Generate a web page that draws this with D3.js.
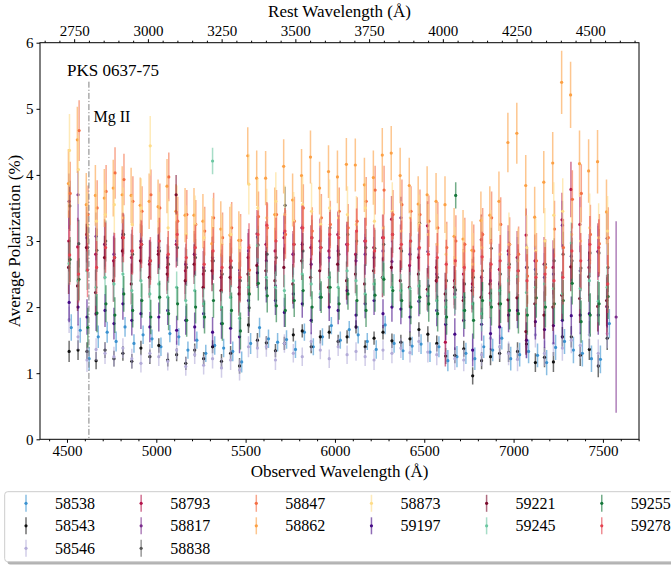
<!DOCTYPE html>
<html>
<head>
<meta charset="utf-8">
<script src="https://cdn.jsdelivr.net/npm/d3@7"></script>
<style>
  body { margin: 0; background: #fff; }
  svg { font-family: "Liberation Serif", "Times New Roman", serif; }
  .tick text { font-size: 15px; fill: #000; font-family: "Liberation Serif", "Times New Roman", serif; }
  .tick line { stroke: #000; }
</style>
</head>
<body>
<div id="chart"></div>
<script>
// ============
// Data
// ============

var redshift = 0.651;           // PKS 0637-75
var mgII = 2800;                // rest wavelength of Mg II line

var xTicks = [4500, 5000, 5500, 6000, 6500, 7000, 7500];
var restTicks = [2750, 3000, 3250, 3500, 3750, 4000, 4250, 4500];
var yTicks = [0, 1, 2, 3, 4, 5, 6];

// bin centres (observed wavelength, Å)
var wave = [4512, 4562, 4612, 4663, 4713, 4763, 4813, 4863, 4914, 4964,
  5014, 5064, 5114, 5165, 5215, 5265, 5315, 5365, 5416, 5466,
  5516, 5566, 5616, 5667, 5717, 5767, 5817, 5867, 5918, 5968,
  6018, 6068, 6118, 6169, 6219, 6269, 6319, 6369, 6420, 6470,
  6520, 6570, 6620, 6671, 6721, 6771, 6821, 6871, 6922, 6972,
  7022, 7072, 7122, 7173, 7223, 7273, 7323, 7373, 7424, 7474, 7524, 7574];

var epochs = ["58538", "58543", "58546", "58793", "58817", "58838", "58847",
  "58862", "58873", "59197", "59221", "59245", "59255", "59278"];
var colors = ["#3b92d0", "#111111", "#b3abd8", "#b4124a", "#7a2b8c", "#555555", "#f46d43",
  "#fca044", "#fedc88", "#450a86", "#7a0a2c", "#6cc7a2", "#15773a", "#e4424f"];
// small wavelength offset of each night's bins (Å)
var shifts = [12, 0, 0, -2, 0, 4, 6, -4, 2, 0, -3, 0, 5, 3];

var pol58538 = [1.69, 1.65, 1.22, 1.55, 1.62, 1.48, 1.70, 1.45, 1.58, 1.52,
  1.40, 1.60, 1.55, 1.35, 1.50, 1.30, 1.42, 1.38, 1.33, 1.17,
  1.45, 1.69, 1.52, 1.47, 1.51, 1.36, 1.62, 1.40, 1.55, 1.72,
  1.50, 1.66, 1.58, 1.48, 1.36, 1.73, 1.45, 1.34, 1.41, 1.44,
  1.32, 1.40, 1.19, 1.25, 1.30, 1.22, 1.40, 1.35, 1.53, 1.22,
  1.28, 1.33, 1.27, 1.16, 1.39, 1.48, 1.35, 1.30, 1.22, 1.21, 1.75, null];
var err58538 = [.20, .19, .18, .17, .16, .15, .15, .14, .14, .14,
  .14, .13, .13, .13, .13, .13, .14, .14, .15, .16,
  .16, .15, .14, .14, .14, .13, .13, .13, .13, .13,
  .13, .13, .13, .13, .14, .14, .14, .14, .14, .15,
  .15, .16, .16, .16, .16, .17, .17, .17, .17, .18,
  .18, .18, .18, .19, .19, .19, .20, .20, .20, .21, .22, null];

var pol58543 = [1.33, 1.35, 1.33, 1.19, 1.35, 1.22, 1.30, 1.18, 1.38, 1.25,
  1.42, 1.20, 1.28, 1.15, 1.35, 1.22, 1.40, 1.18, 1.30, 1.11,
  1.73, 1.50, 1.46, 1.34, 1.45, 1.58, 1.64, 1.40, 1.55, 1.62,
  1.48, 1.55, 1.70, 1.40, 1.53, 1.62, 1.49, 1.47, 1.52, 1.66,
  1.59, 1.45, 1.26, 1.27, 1.37, 0.96, 1.19, 1.25, 1.30, 1.31,
  1.33, 1.44, 1.16, 1.24, 1.17, 1.55, 1.55, 1.27, 1.36, 1.11, 1.53, null];
var err58543 = [.16, .15, .14, .13, .12, .12, .11, .11, .11, .11,
  .11, .10, .10, .10, .10, .10, .10, .11, .11, .12,
  .12, .11, .10, .10, .10, .10, .10, .10, .10, .10,
  .10, .10, .10, .10, .10, .11, .11, .11, .11, .11,
  .12, .12, .12, .12, .12, .13, .13, .13, .13, .14,
  .14, .14, .14, .15, .15, .15, .16, .16, .16, .17, .18, null];

var pol58546 = [1.81, 1.55, 1.20, 1.36, 1.30, 1.25, 1.38, 1.22, 1.15, 1.30,
  1.25, 1.18, 1.35, 1.10, 1.28, 1.12, 1.22, 1.08, 1.20, 1.05,
  1.40, 1.38, 1.40, 1.20, 1.45, 1.30, 1.25, 1.48, 1.35, 1.22,
  1.40, 1.28, 1.33, 1.25, 1.20, 1.35, 1.30, 1.38, 1.31, 1.48,
  1.32, 1.28, 1.30, 1.22, 1.20, 1.35, 1.28, 1.53, 1.40, 1.30,
  1.21, 1.40, 1.58, 1.30, 1.45, 1.38, 1.50, 1.42, 1.58, 1.30, 1.60, null];
var err58546 = [.20, .19, .18, .17, .16, .15, .15, .15, .14, .14,
  .14, .14, .14, .14, .14, .14, .15, .15, .15, .16,
  .16, .15, .15, .15, .14, .14, .14, .14, .14, .14,
  .14, .14, .14, .14, .15, .15, .15, .15, .15, .16,
  .16, .16, .16, .17, .17, .17, .17, .17, .18, .18,
  .18, .18, .19, .19, .19, .19, .20, .20, .21, .21, .22, null];

var pol58793 = [3.00, 2.91, 3.10, 2.80, 2.95, 2.70, 3.05, 2.75, 2.90, 2.65,
  2.85, 2.60, 2.95, 2.55, 2.80, 2.50, 2.70, 2.45, 2.60, 2.30,
  2.75, 3.11, 2.95, 2.85, 3.05, 2.80, 3.20, 2.90, 3.00, 2.85,
  3.10, 2.95, 2.80, 3.00, 2.90, 3.05, 3.33, 2.89, 2.63, 2.75,
  3.23, 2.60, 1.47, 2.40, 2.50, 2.35, 3.02, 2.21, 2.57, 2.85,
  2.75, 3.09, 2.70, 2.65, 2.60, 3.32, 3.78, 3.25, 2.60, 2.84, 2.01, null];
var err58793 = [.46, .44, .42, .40, .38, .37, .37, .36, .36, .36,
  .35, .35, .35, .35, .35, .35, .36, .36, .37, .38,
  .37, .36, .35, .35, .35, .35, .34, .34, .34, .34,
  .34, .34, .34, .35, .35, .35, .35, .36, .36, .36,
  .37, .37, .37, .37, .38, .38, .38, .38, .39, .39,
  .40, .40, .40, .41, .41, .41, .42, .42, .43, .43, .44, null];

var pol58817 = [3.60, 3.70, 3.05, 3.07, 2.95, 2.80, 3.10, 2.85, 3.00, 2.70,
  2.90, 2.75, 3.00, 2.65, 2.80, 2.60, 2.75, 2.55, 2.70, 2.56,
  2.85, 3.06, 2.70, 2.32, 3.12, 2.80, 2.95, 2.65, 2.90, 2.75,
  2.85, 2.95, 2.70, 2.80, 2.75, 2.85, 2.69, 3.35, 2.80, 2.88,
  2.84, 2.50, 2.10, 2.20, 2.15, 2.30, 2.45, 2.40, 2.35, 2.80,
  2.70, 2.60, 2.57, 2.45, 2.50, 3.24, 2.77, 2.55, 2.71, 2.84, 3.04, 1.85];
var err58817 = [.42, .40, .38, .36, .34, .33, .33, .32, .32, .32,
  .31, .31, .31, .31, .31, .31, .32, .32, .33, .34,
  .33, .32, .31, .31, .31, .31, .30, .30, .30, .30,
  .30, .30, .30, .31, .31, .31, .31, .32, .32, .32,
  .33, .33, .33, .33, .34, .34, .34, .34, .35, .35,
  .36, .36, .36, .37, .37, .37, .38, .38, .39, .39, .40, 1.45];

var pol58838 = [3.53, 2.96, 2.90, 2.86, 3.00, 2.75, 3.10, 2.80, 2.95, 2.70,
  2.85, 2.65, 2.90, 2.60, 2.75, 2.55, 2.70, 2.50, 2.60, 2.40,
  1.99, 2.94, 2.80, 2.75, 3.54, 2.95, 2.85, 3.05, 2.90, 3.20,
  2.80, 3.10, 3.00, 2.90, 2.89, 2.95, 3.10, 2.85, 3.00, 3.27,
  2.32, 2.45, 2.40, 2.26, 2.35, 2.45, 2.55, 2.89, 2.50, 2.65,
  2.55, 2.60, 2.50, 2.65, 2.70, 2.80, 2.70, 2.59, 2.82, 2.82, 2.60, null];
var err58838 = [.38, .36, .34, .33, .31, .30, .30, .29, .29, .29,
  .28, .28, .28, .28, .28, .28, .29, .29, .30, .31,
  .30, .29, .28, .28, .28, .28, .27, .27, .27, .27,
  .27, .27, .27, .28, .28, .28, .28, .29, .29, .29,
  .30, .30, .30, .30, .31, .31, .31, .31, .32, .32,
  .33, .33, .33, .34, .34, .34, .35, .35, .36, .36, .37, null];

var pol58847 = [3.72, 4.67, 3.40, 3.50, 3.75, 4.03, 3.93, 3.60, 3.45, 3.70,
  3.50, 3.97, 3.30, 3.40, 3.25, 3.15, 3.35, 3.05, 3.20, 3.01,
  2.56, 3.37, 3.20, 3.40, 3.10, 3.30, 3.50, 3.15, 3.35, 3.25,
  3.45, 3.20, 3.30, 3.60, 3.77, 3.77, 3.40, 3.55, 3.45, 3.40,
  3.30, 3.20, 2.90, 3.00, 2.95, 2.85, 3.10, 3.35, 3.25, 2.95,
  2.80, 2.47, 2.70, 2.60, 3.18, 2.90, 3.63, 3.72, 3.10, 2.96, 3.05, null];
var err58847 = [.48, .46, .44, .42, .40, .39, .39, .38, .38, .38,
  .37, .37, .37, .37, .37, .37, .38, .38, .39, .40,
  .39, .38, .37, .37, .37, .37, .36, .36, .36, .36,
  .36, .36, .36, .37, .37, .37, .37, .38, .38, .38,
  .39, .39, .39, .39, .40, .40, .40, .40, .41, .41,
  .42, .42, .42, .43, .43, .43, .44, .44, .45, .45, .46, null];

var pol58862 = [3.87, 4.53, 3.55, 3.69, 3.65, 3.80, 3.70, 3.69, 3.54, 3.60,
  3.52, 3.83, 3.45, 3.39, 3.39, 3.30, 2.96, 3.18, 3.09, 3.01,
  4.29, 3.95, 3.95, 3.40, 4.13, 3.62, 3.99, 4.27, 3.80, 4.05,
  3.97, 4.16, 4.15, 3.85, 3.96, 4.30, 4.33, 3.99, 3.84, 3.56,
  3.70, 3.60, 3.55, 3.07, 3.03, 2.86, 3.31, 3.39, 3.60, 4.49,
  4.63, 3.84, 3.36, 3.89, 4.18, 5.40, 5.21, 4.17, 4.06, 4.20, 3.44, null];
var err58862 = [.52, .50, .48, .46, .44, .43, .43, .42, .42, .42,
  .41, .41, .41, .41, .41, .41, .42, .42, .43, .44,
  .43, .42, .41, .41, .41, .40, .40, .40, .40, .40,
  .40, .40, .40, .41, .41, .41, .41, .42, .42, .42,
  .43, .43, .43, .43, .44, .44, .44, .44, .45, .45,
  .46, .46, .46, .47, .47, .48, .50, .50, .48, .48, .49, null];

var pol58873 = [4.37, 4.08, 3.24, 3.30, 3.40, 3.55, 3.35, 3.25, 3.50, 4.44,
  3.30, 3.20, 3.40, 3.10, 3.25, 3.05, 3.20, 2.95, 3.10, 2.90,
  3.86, 3.50, 3.35, 3.60, 3.40, 3.30, 3.55, 3.45, 3.25, 3.50,
  3.35, 3.40, 3.25, 3.50, 3.30, 3.20, 3.45, 3.15, 3.35, 3.25,
  3.10, 2.95, 2.80, 2.75, 2.85, 2.65, 2.90, 3.00, 2.80, 2.95,
  2.70, 2.90, 2.85, 3.00, 3.39, 3.45, 3.10, 3.00, 3.20, 3.05, 3.15, null];
var err58873 = [.55, .52, .50, .48, .47, .46, .46, .45, .45, .45,
  .44, .44, .44, .44, .44, .44, .45, .45, .46, .47,
  .46, .45, .44, .44, .44, .44, .43, .43, .43, .43,
  .43, .43, .43, .44, .44, .44, .44, .45, .45, .45,
  .46, .46, .46, .46, .47, .47, .47, .47, .48, .48,
  .49, .49, .49, .50, .50, .50, .51, .51, .52, .52, .53, null];

var pol59197 = [2.07, 2.00, 1.85, 1.90, 1.95, 1.75, 2.05, 1.80, 1.90, 1.70,
  1.85, 1.95, 1.65, 1.80, 1.70, 1.90, 1.62, 1.75, 1.68, 1.55,
  2.10, 2.52, 2.29, 2.10, 1.92, 2.20, 2.05, 1.80, 2.15, 2.00,
  1.95, 2.25, 1.88, 2.05, 2.10, 1.90, 2.00, 1.97, 1.85, 2.09,
  2.17, 1.95, 1.74, 1.59, 1.80, 1.35, 1.74, 1.60, 1.70, 1.88,
  1.95, 1.50, 1.78, 1.66, 1.72, 1.80, 1.87, 1.88, 1.90, 1.88, 2.00, null];
var err59197 = [.30, .28, .27, .26, .25, .24, .24, .23, .23, .23,
  .22, .22, .22, .22, .22, .22, .23, .23, .24, .25,
  .24, .23, .22, .22, .22, .22, .21, .21, .21, .21,
  .21, .21, .21, .22, .22, .22, .22, .23, .23, .23,
  .24, .24, .24, .24, .25, .25, .25, .25, .26, .26,
  .27, .27, .27, .28, .28, .28, .29, .29, .30, .30, .31, null];

var pol59221 = [2.60, 2.32, 2.90, 2.22, 2.75, 2.40, 2.85, 2.35, 2.70, 2.45,
  2.80, 2.50, 3.70, 2.40, 2.65, 2.30, 2.55, 2.25, 2.45, 2.20,
  2.50, 2.63, 2.55, 2.40, 2.60, 2.35, 2.70, 2.45, 2.55, 2.30,
  2.65, 2.40, 2.50, 2.35, 2.55, 2.45, 2.60, 2.40, 2.30, 2.50,
  2.27, 2.40, 2.20, 2.30, 2.10, 2.25, 2.15, 2.35, 2.05, 2.11,
  2.14, 1.63, 2.05, 1.88, 2.00, 2.18, 2.61, 2.13, 2.46, 2.01, 2.10, null];
var err59221 = [.40, .38, .36, .35, .33, .32, .32, .31, .31, .31,
  .30, .30, .30, .30, .30, .30, .31, .31, .32, .33,
  .32, .31, .30, .30, .30, .30, .29, .29, .29, .29,
  .29, .29, .29, .30, .30, .30, .30, .31, .31, .31,
  .32, .32, .32, .32, .33, .33, .33, .33, .34, .34,
  .35, .35, .35, .36, .36, .36, .37, .37, .38, .38, .39, null];

var pol59245 = [2.66, 2.40, 2.55, 2.30, 2.45, 2.35, 2.50, 2.25, 2.40, 2.20,
  2.35, 2.15, 2.30, 2.10, 2.25, 2.05, 4.21, 2.00, 2.15, 1.83,
  2.30, 2.93, 2.45, 2.30, 2.25, 2.40, 2.50, 2.35, 2.20, 2.45,
  2.30, 2.55, 2.40, 2.20, 2.35, 2.45, 2.30, 2.25, 2.28, 2.32,
  2.20, 2.10, 2.00, 2.15, 1.95, 2.05, 1.90, 2.10, 2.25, 2.40,
  2.46, 2.22, 2.30, 2.35, 2.28, 2.20, 2.97, 2.28, 2.40, 2.09, 2.30, null];
var err59245 = [.32, .30, .29, .28, .27, .26, .26, .25, .25, .25,
  .24, .24, .24, .24, .24, .24, .20, .25, .26, .27,
  .26, .25, .24, .24, .24, .24, .23, .23, .23, .23,
  .23, .23, .23, .24, .24, .24, .24, .25, .25, .25,
  .26, .26, .26, .26, .27, .27, .27, .27, .28, .28,
  .29, .29, .29, .30, .30, .30, .31, .31, .32, .32, .33, null];

var pol59255 = [2.72, 2.42, 1.69, 1.91, 2.05, 1.88, 2.20, 1.95, 2.10, 1.85,
  2.15, 1.90, 2.05, 1.80, 2.00, 1.85, 2.10, 1.75, 1.95, 1.64,
  2.20, 2.36, 2.17, 2.02, 1.95, 2.10, 2.25, 2.00, 2.15, 2.30,
  2.05, 2.20, 2.10, 1.95, 2.18, 2.42, 2.25, 2.10, 2.00, 2.15,
  2.05, 1.90, 1.85, 3.69, 1.95, 1.80, 2.10, 2.00, 2.05, 1.95,
  1.90, 1.88, 2.14, 2.00, 2.05, 2.10, 2.36, 1.78, 1.88, 2.05, 2.16, null];
var err59255 = [.34, .32, .30, .29, .28, .27, .27, .26, .26, .26,
  .25, .25, .25, .25, .25, .25, .26, .26, .27, .28,
  .27, .26, .25, .25, .25, .25, .24, .24, .24, .24,
  .24, .24, .24, .25, .25, .25, .25, .26, .26, .26,
  .27, .27, .27, .20, .28, .28, .28, .28, .29, .29,
  .30, .30, .30, .31, .31, .31, .32, .32, .33, .33, .34, null];

var pol59278 = [2.79, 2.50, 2.56, 2.60, 2.90, 2.75, 3.05, 2.85, 2.95, 2.70,
  3.00, 2.80, 3.10, 2.75, 2.90, 2.65, 2.85, 2.60, 2.70, 2.45,
  2.90, 3.10, 3.24, 3.00, 3.15, 2.95, 3.20, 3.05, 2.90, 3.10,
  3.05, 2.95, 3.15, 3.00, 2.85, 3.05, 3.10, 2.95, 3.00, 2.90,
  2.80, 2.75, 2.65, 2.70, 2.60, 2.55, 2.76, 2.65, 2.70, 2.60,
  2.55, 2.40, 2.45, 2.50, 2.40, 2.45, 2.85, 2.70, 2.95, 2.90, 2.35, null];
var err59278 = [.45, .43, .41, .40, .38, .37, .37, .36, .36, .36,
  .35, .35, .35, .35, .35, .35, .36, .36, .37, .38,
  .37, .36, .35, .35, .35, .35, .34, .34, .34, .34,
  .34, .34, .34, .35, .35, .35, .35, .36, .36, .36,
  .37, .37, .37, .37, .38, .38, .38, .38, .39, .39,
  .40, .40, .40, .41, .41, .41, .42, .42, .43, .43, .44, null];

var polData = [pol58538, pol58543, pol58546, pol58793, pol58817, pol58838, pol58847,
  pol58862, pol58873, pol59197, pol59221, pol59245, pol59255, pol59278];
var errData = [err58538, err58543, err58546, err58793, err58817, err58838, err58847,
  err58862, err58873, err59197, err59221, err59245, err59255, err59278];

// ============
// Set up of the chart and svg
// ============

var svgWidth = 671;
var svgHeight = 567;

var margin = { top: 42.7, left: 40 };
var width = 599;
var height = 396.6;

var svg = d3.select("#chart")
  .append("svg")
  .attr("width", svgWidth)
  .attr("height", svgHeight);

var chartGroup = svg.append("g")
  .attr("transform", `translate(${margin.left}, ${margin.top})`);

var xScale = d3.scaleLinear().domain([4349, 7702]).range([0, width]);
var restScale = d3.scaleLinear()
  .domain([4349 / (1 + redshift), 7702 / (1 + redshift)])
  .range([0, width]);
var yScale = d3.scaleLinear().domain([0, 6]).range([height, 0]);

chartGroup.append("clipPath").attr("id", "plotClip")
  .append("rect").attr("width", width).attr("height", height);

// ============
// Axes
// ============

var xMinor = d3.range(4400, 7701, 100).filter(d => d % 500 !== 0);
var restMinor = d3.range(2650, 4651, 50).filter(d => d % 250 !== 0);

chartGroup.append("g")
  .attr("transform", `translate(0, ${height})`)
  .call(d3.axisBottom(xScale).tickValues(xMinor).tickSize(2).tickFormat(""))
  .call(g => g.select(".domain").remove());

chartGroup.append("g")
  .attr("transform", `translate(0, ${height})`)
  .call(d3.axisBottom(xScale).tickValues(xTicks).tickSize(3.5).tickPadding(3).tickFormat(d3.format("d")))
  .call(g => g.select(".domain").remove());

chartGroup.append("g")
  .call(d3.axisTop(restScale).tickValues(restMinor).tickSize(2).tickFormat(""))
  .call(g => g.select(".domain").remove());

chartGroup.append("g")
  .call(d3.axisTop(restScale).tickValues(restTicks).tickSize(3.5).tickPadding(3).tickFormat(d3.format("d")))
  .call(g => g.select(".domain").remove());

chartGroup.append("g")
  .call(d3.axisLeft(yScale).tickValues(yTicks).tickSize(3.5).tickPadding(3).tickFormat(d3.format("d")))
  .call(g => g.select(".domain").remove());

// ============
// Error bars
// ============

var plotArea = chartGroup.append("g").attr("clip-path", "url(#plotClip)");

epochs.forEach(function(mjd, k) {
  var pts = wave.map(function(w, i) {
    return { w: w + shifts[k], v: polData[k][i], e: errData[k][i] };
  }).filter(d => d.v !== null);

  var g = plotArea.append("g").attr("class", "night-" + mjd);

  g.selectAll("line")
    .data(pts)
    .enter()
    .append("line")
    .attr("x1", d => xScale(d.w))
    .attr("x2", d => xScale(d.w))
    .attr("y1", d => yScale(d.v - d.e))
    .attr("y2", d => yScale(d.v + d.e))
    .attr("stroke", colors[k])
    .attr("stroke-width", 1.5)
    .attr("stroke-opacity", 0.6);

  g.selectAll("circle")
    .data(pts)
    .enter()
    .append("circle")
    .attr("cx", d => xScale(d.w))
    .attr("cy", d => yScale(d.v))
    .attr("r", 1.6)
    .attr("fill", colors[k]);
});

// Mg II marker
var mgX = xScale(mgII * (1 + redshift));
chartGroup.append("line")
  .attr("x1", mgX).attr("x2", mgX)
  .attr("y1", yScale(5.41)).attr("y2", height)
  .attr("stroke", "#808080")
  .attr("stroke-width", 1)
  .attr("stroke-dasharray", "6,2,1.2,2");

chartGroup.append("text")
  .attr("x", xScale(4500))
  .attr("y", yScale(5.5))
  .attr("font-size", "17px")
  .text("PKS 0637-75");

chartGroup.append("text")
  .attr("x", xScale(4648))
  .attr("y", yScale(4.8))
  .attr("font-size", "16px")
  .text("Mg II");

// frame
chartGroup.append("rect")
  .attr("width", width)
  .attr("height", height)
  .attr("fill", "none")
  .attr("stroke", "#000")
  .attr("stroke-width", 1);

// axis labels
svg.append("text")
  .attr("x", margin.left + width / 2)
  .attr("y", 477)
  .attr("text-anchor", "middle")
  .attr("font-size", "17px")
  .text("Observed Wavelength (Å)");

svg.append("text")
  .attr("x", margin.left + width / 2)
  .attr("y", 17)
  .attr("text-anchor", "middle")
  .attr("font-size", "17px")
  .text("Rest Wavelength (Å)");

svg.append("text")
  .attr("transform", `translate(20, ${margin.top + height / 2}) rotate(-90)`)
  .attr("text-anchor", "middle")
  .attr("font-size", "17px")
  .text("Average Polarization (%)");

// ============
// Legend (6 columns, runs off the right edge)
// ============

var legend = svg.append("g");
legend.append("rect")
  .attr("x", 7.4).attr("y", 494.4)
  .attr("width", 720).attr("height", 70)
  .attr("rx", 3)
  .attr("fill", "#000").attr("fill-opacity", 0.3);
legend.append("rect")
  .attr("x", 4.7).attr("y", 491.7)
  .attr("width", 720).attr("height", 70)
  .attr("rx", 3)
  .attr("fill", "#fff")
  .attr("stroke", "#cccccc")
  .attr("stroke-width", 1);

var colSizes = [3, 3, 2, 2, 2, 2];
var k = 0;
colSizes.forEach(function(n, c) {
  for (var r = 0; r < n; r++) {
    var lx = 26 + c * 115.15;
    var ly = 503.3 + r * 22.5;
    var item = legend.append("g");
    item.append("line")
      .attr("x1", lx).attr("x2", lx)
      .attr("y1", ly - 8.5).attr("y2", ly + 8.5)
      .attr("stroke", colors[k])
      .attr("stroke-width", 1.5)
      .attr("stroke-opacity", 0.6);
    item.append("circle")
      .attr("cx", lx).attr("cy", ly).attr("r", 1.6)
      .attr("fill", colors[k]);
    item.append("text")
      .attr("x", lx + 29)
      .attr("y", ly + 5.5)
      .attr("font-size", "16px")
      .text(epochs[k]);
    k++;
  }
});
</script>
</body>
</html>
